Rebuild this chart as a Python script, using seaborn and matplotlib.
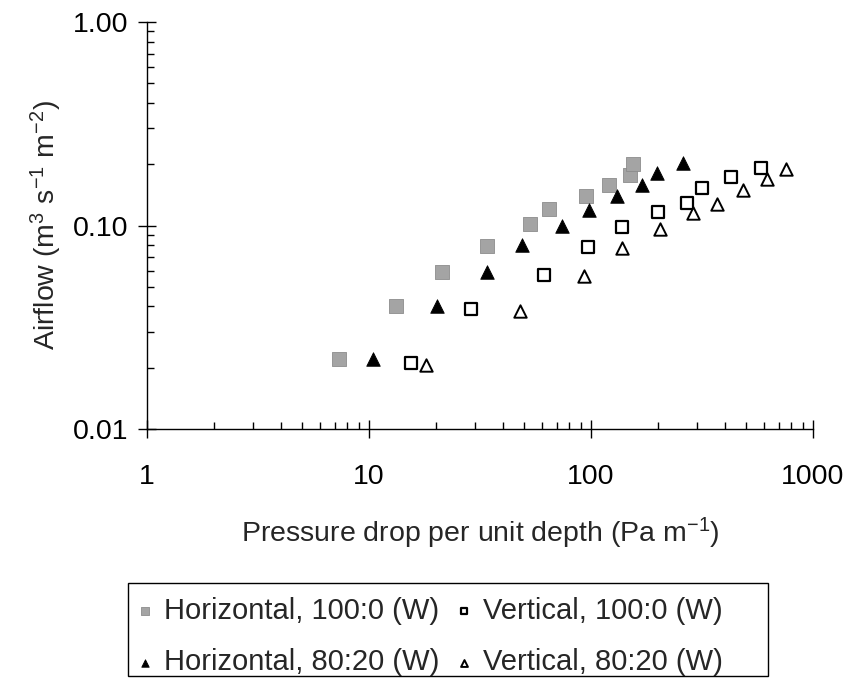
import numpy as np
import pandas as pd
import matplotlib
matplotlib.use("Agg")
import matplotlib.pyplot as plt
import matplotlib.patches as mpatches
import seaborn as sns
from matplotlib.ticker import LogLocator, FixedLocator, FixedFormatter, NullFormatter

# ---- data ----
h100_x = [7.3, 13.3, 21.4, 34, 53, 65, 95, 121, 150, 154]
h100_y = [0.022, 0.040, 0.059, 0.079, 0.102, 0.121, 0.139, 0.159, 0.178, 0.200]
h80_x = [10.4, 20.2, 34, 49, 74, 98, 131, 170, 198, 261]
h80_y = [0.022, 0.040, 0.059, 0.080, 0.099, 0.119, 0.139, 0.159, 0.182, 0.202]
v100_x = [15.4, 28.9, 61.5, 97, 138, 200, 271, 316, 427, 582]
v100_y = [0.021, 0.039, 0.057, 0.078, 0.098, 0.116, 0.129, 0.153, 0.174, 0.192]
v80_x = [18, 47.8, 93, 138, 205, 288, 369, 486, 620, 755]
v80_y = [0.0207, 0.0378, 0.0563, 0.0772, 0.0963, 0.115, 0.127, 0.150, 0.170, 0.189]

labels = ["Horizontal, 100:0 (W)", "Horizontal, 80:20 (W)",
          "Vertical, 100:0 (W)", "Vertical, 80:20 (W)"]
x_ticks = [1, 10, 100, 1000]
x_ticklabels = ["1", "10", "100", "1000"]
y_ticks = [0.01, 0.1, 1.0]
y_ticklabels = ["0.01", "0.10", "1.00"]

sns.set_style("ticks")
plt.rcParams["font.family"] = ["Liberation Sans", "DejaVu Sans"]
plt.rcParams["mathtext.fontset"] = "custom"
plt.rcParams["mathtext.rm"] = "Liberation Sans"
plt.rcParams["mathtext.it"] = "Liberation Sans:italic"
plt.rcParams["mathtext.bf"] = "Liberation Sans:bold"

FS = 20.5
FS_LEG = 21

fig = plt.figure(figsize=(8.48, 6.8), dpi=100)
ax = fig.add_axes([147 / 848, 1 - 429 / 680, (813 - 147) / 848, (429 - 22) / 680])

series = [
    (h100_x, h100_y, labels[0], dict(marker="s", s=90, color="#a4a4a4",
                                     facecolor="#a4a4a4", edgecolor="#8c8c8c", linewidth=0.6)),
    (h80_x, h80_y, labels[1], dict(marker="^", s=95, color="black",
                                   facecolor="black", edgecolor="black", linewidth=0.6)),
    (v100_x, v100_y, labels[2], dict(marker="s", s=72, color="black",
                                     facecolor="white", edgecolor="black", linewidth=1.6)),
    (v80_x, v80_y, labels[3], dict(marker="^", s=80, color="black",
                                   facecolor="white", edgecolor="black", linewidth=1.4)),
]

for xs, ys, lab, kw in series:
    df = pd.DataFrame({"x": xs, "y": ys})
    sns.scatterplot(data=df, x="x", y="y", ax=ax, label=lab, zorder=3, **kw)

ax.set_xscale("log")
ax.set_yscale("log")
ax.set_xlim(1, 1000)
ax.set_ylim(0.01, 1.0)

ax.xaxis.set_major_locator(FixedLocator(x_ticks))
ax.xaxis.set_major_formatter(FixedFormatter(x_ticklabels))
ax.yaxis.set_major_locator(FixedLocator(y_ticks))
ax.yaxis.set_major_formatter(FixedFormatter(y_ticklabels))
ax.xaxis.set_minor_locator(LogLocator(base=10, subs=np.arange(2, 10)))
ax.yaxis.set_minor_locator(LogLocator(base=10, subs=np.arange(2, 10)))
ax.xaxis.set_minor_formatter(NullFormatter())
ax.yaxis.set_minor_formatter(NullFormatter())

ax.tick_params(which="major", direction="inout", length=13, width=1.0,
               labelsize=FS, color="black", labelcolor="black")
ax.tick_params(axis="x", which="major", pad=19)
ax.tick_params(axis="y", which="major", pad=7)
ax.tick_params(which="minor", direction="in", length=5, width=1.0, color="black")

for side in ["top", "right"]:
    ax.spines[side].set_visible(False)
for side in ["left", "bottom"]:
    ax.spines[side].set_color("black")
    ax.spines[side].set_linewidth(1.0)

ax.set_xlabel("Pressure drop per unit depth (Pa m$^{-1}$)", fontsize=FS, labelpad=18)
ax.set_ylabel("Airflow (m$^{3}$ s$^{-1}$ m$^{-2}$)", fontsize=FS, labelpad=6)

handles, labs = ax.get_legend_handles_labels()
if ax.get_legend() is not None:
    ax.get_legend().remove()

# legend frame (box spans wider than the entries, as in the reference)
frame = mpatches.Rectangle((128 / 848, 1 - 676 / 680), (768 - 128) / 848, (676 - 583) / 680,
                           transform=fig.transFigure, fill=False, edgecolor="black",
                           linewidth=1.0)
fig.patches.append(frame)

leg = fig.legend(handles, labs, ncol=2, fontsize=FS_LEG,
                 loc="upper left", bbox_to_anchor=(122 / 848, 1 - 583 / 680),
                 frameon=False, markerscale=0.55,
                 handlelength=0.6, handletextpad=0.35, columnspacing=0.55,
                 labelspacing=0.8, borderpad=0.48, borderaxespad=0)

fig.savefig("out.png", dpi=100)
